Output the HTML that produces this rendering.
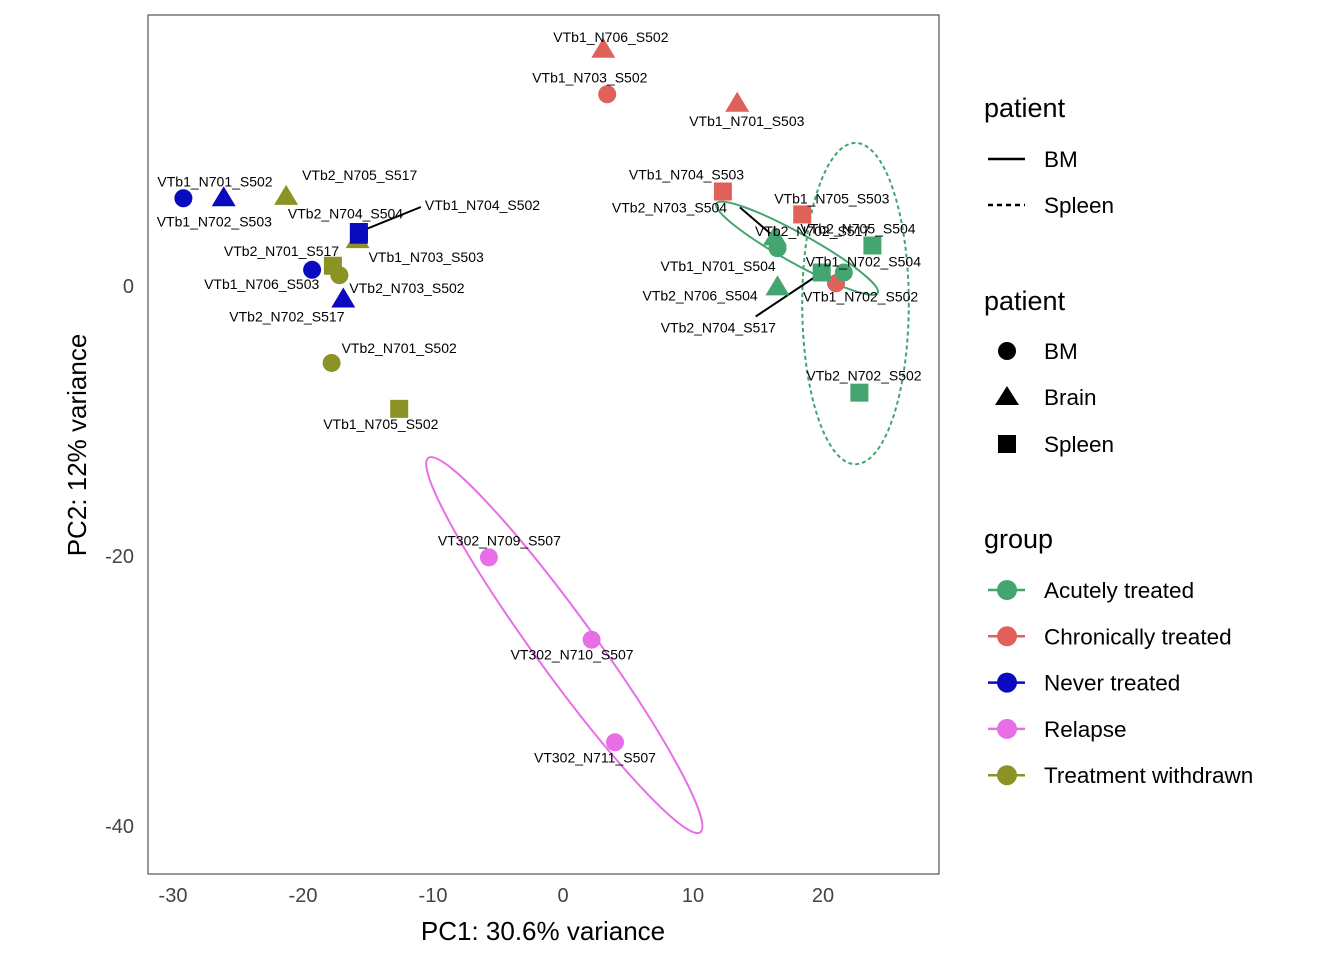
<!DOCTYPE html>
<html><head><meta charset="utf-8">
<style>
body{margin:0;background:#fff;font-family:"Liberation Sans",Arial,sans-serif;}
svg text{font-family:"Liberation Sans",Arial,sans-serif;}
</style></head>
<body>
<svg id="chart" width="1344" height="960" viewBox="0 0 1344 960">
<rect x="148" y="15" width="791" height="859" fill="#fff" stroke="#333" stroke-width="1"/>
<g id="ellipses"></g>
<g id="lines"></g>
<g id="points"></g>
<g id="labels"></g>
<text x="755" y="236" font-size="14" fill="#000">VTb2_N702_S517</text>
<g id="axes"></g>
<text x="543" y="940" font-size="26" text-anchor="middle" fill="#000">PC1: 30.6% variance</text>
<text x="86" y="445" font-size="26" text-anchor="middle" fill="#000" transform="rotate(-90 86 445)">PC2: 12% variance</text>
<g id="legend">
<text x="984" y="117" font-size="27">patient</text>
<line x1="988" y1="159" x2="1025" y2="159" stroke="#000" stroke-width="2.5"/>
<text x="1044" y="167" font-size="22.5">BM</text>
<line x1="988" y1="205" x2="1025" y2="205" stroke="#000" stroke-width="2.5" stroke-dasharray="5,4"/>
<text x="1044" y="213" font-size="22.5">Spleen</text>
<text x="984" y="310" font-size="27">patient</text>
<circle cx="1007" cy="351" r="9" fill="#000"/>
<text x="1044" y="359" font-size="22.5">BM</text>
<polygon points="1007,386 1019,405 995,405" fill="#000"/>
<text x="1044" y="405" font-size="22.5">Brain</text>
<rect x="998" y="435" width="18" height="18" fill="#000"/>
<text x="1044" y="452" font-size="22.5">Spleen</text>
<text x="984" y="548" font-size="27">group</text>
<g id="grouplegend"></g>
</g>
</svg>
<script>
const NS="http://www.w3.org/2000/svg";
const groups=["Acutely treated","Chronically treated","Never treated","Relapse","Treatment withdrawn"];
const colors=["#44a570","#e0605a","#0a0abf","#e86ee8","#8b9325"];
const sampleNames=["VTb1_N706_S502","VTb1_N703_S502","VTb1_N701_S503","VTb1_N704_S503","VTb1_N705_S503","VTb1_N702_S502",
"VTb2_N703_S504","VTb1_N701_S504","VTb2_N704_S517","VTb1_N702_S504","VTb2_N705_S504","VTb2_N706_S504","VTb2_N702_S502",
"VTb1_N701_S502","VTb1_N702_S503","VTb1_N704_S502","VTb1_N706_S503","VTb2_N702_S517",
"VTb2_N705_S517","VTb1_N703_S503","VTb2_N701_S517","VTb2_N703_S502","VTb2_N701_S502","VTb1_N705_S502",
"VT302_N709_S507","VT302_N710_S507","VT302_N711_S507","VTb2_N704_S504"];
const pc1=[3.1,3.4,13.4,12.3,18.4,21.0, 16.3,16.5,19.9,21.6,23.8,16.5,22.8, -29.2,-26.1,-15.7,-19.3,-16.9, -21.3,-15.8,-17.7,-17.2,-17.8,-12.6, -5.7,2.2,4.0,-15.7];
const pc2=[17.5,14.2,13.5,7.0,5.3,0.2, 3.6,2.8,1.0,1.0,3.0,-0.1,-7.9, 6.5,6.5,4.0,1.2,-1.0, 6.6,3.4,1.5,0.8,-5.7,-9.1, -20.1,-26.2,-33.8,3.8];
const groupIdx=[1,1,1,1,1,1, 0,0,0,0,0,0,0, 2,2,2,2,2, 4,4,4,4,4,4, 3,3,3,2];
const shapes=["t","c","t","s","s","c", "t","c","s","c","s","t","s", "c","t","s","c","t", "t","t","s","c","c","s", "c","c","c","s"];
const lab=[[-50,-8],[-75,-12],[-48,22],[-94,-12],[-28,-11],[-33,18],
[-163,-25],[-117,23],[-161,60],[-38,-6],[-72,-12],[-135,13],[-53,-12],
[-26,-12],[-67,28],[66,-22],[-108,19],[-114,22],
[16,-17],[11,22],[-109,-10],[10,18],[10,-10],[-76,20],
[-51,-12],[-81,20],[-81,20],[-71,-16]];
const xTicks=[-30,-20,-10,0,10,20];
const yTicks=[0,-20,-40];
const ellCx=[18.0,22.5,0.1];
const ellCy=[2.8,-1.3,-26.6];
const ellA=[7.1,4.1,17.8];
const ellB=[1.1,11.9,2.2];
const ellAng=[29,0,54];
const ellColor=[0,0,3];
const ellDash=[false,true,false];

const X=v=>563+v*13, Y=v=>286-v*13.5;
const S=(tag,attrs,par)=>{const e=document.createElementNS(NS,tag);for(const k in attrs)e.setAttribute(k,attrs[k]);document.getElementById(par).appendChild(e);return e;};

xTicks.forEach(t=>{const e=S("text",{x:X(t),y:902,"font-size":20,"text-anchor":"middle",fill:"#444"},"axes");e.textContent=t;

});
yTicks.forEach(t=>{const e=S("text",{x:134,y:Y(t)+7,"font-size":20,"text-anchor":"end",fill:"#444"},"axes");e.textContent=t;

});

ellCx.forEach((c,i)=>{const cx=X(c),cy=Y(ellCy[i]);
const e=S("ellipse",{cx:cx,cy:cy,rx:ellA[i]*13,ry:ellB[i]*13.5,fill:"none",stroke:colors[ellColor[i]],"stroke-width":2,transform:`rotate(${ellAng[i]} ${cx} ${cy})`},"ellipses");
if(ellDash[i])e.setAttribute("stroke-dasharray","4,3");

});

pc1.forEach((v,i)=>{const x=X(v),y=Y(pc2[i]),c=colors[groupIdx[i]];let e;
if(shapes[i]==="c")e=S("circle",{cx:x,cy:y,r:9,fill:c},"points");
else if(shapes[i]==="s")e=S("rect",{x:x-9,y:y-9,width:18,height:18,fill:c},"points");
else e=S("polygon",{points:`${x},${y-12} ${x+12},${y+8} ${x-12},${y+8}`,fill:c},"points");


const tx=x+lab[i][0],ty=y+lab[i][1];
const t=S("text",{x:tx,y:ty,"font-size":14,fill:"#000"},"labels");t.textContent=sampleNames[i];


if(Math.abs(lab[i][1])>40||Math.abs(lab[i][0])>150||(lab[i][0]>50)){
let x2=lab[i][0]>50?tx-4:tx+95, y2=lab[i][0]>50?ty-3:ty-16;
if(Math.abs(lab[i][1])<40&&lab[i][0]<-150){x2=tx+128;y2=ty-5;}
const l=S("line",{x1:x,y1:y,x2:x2,y2:y2,stroke:"#000","stroke-width":2},"lines");

}
});
groups.forEach((g,i)=>{const y=590+i*46.3;
const l=S("line",{x1:988,y1:y,x2:1025,y2:y,stroke:colors[i],"stroke-width":2.5},"grouplegend");


const c=S("circle",{cx:1007,cy:y,r:10,fill:colors[i]},"grouplegend");


const t=S("text",{x:1044,y:y+8,"font-size":22.5},"grouplegend");t.textContent=g;

});
</script>
</body></html>
